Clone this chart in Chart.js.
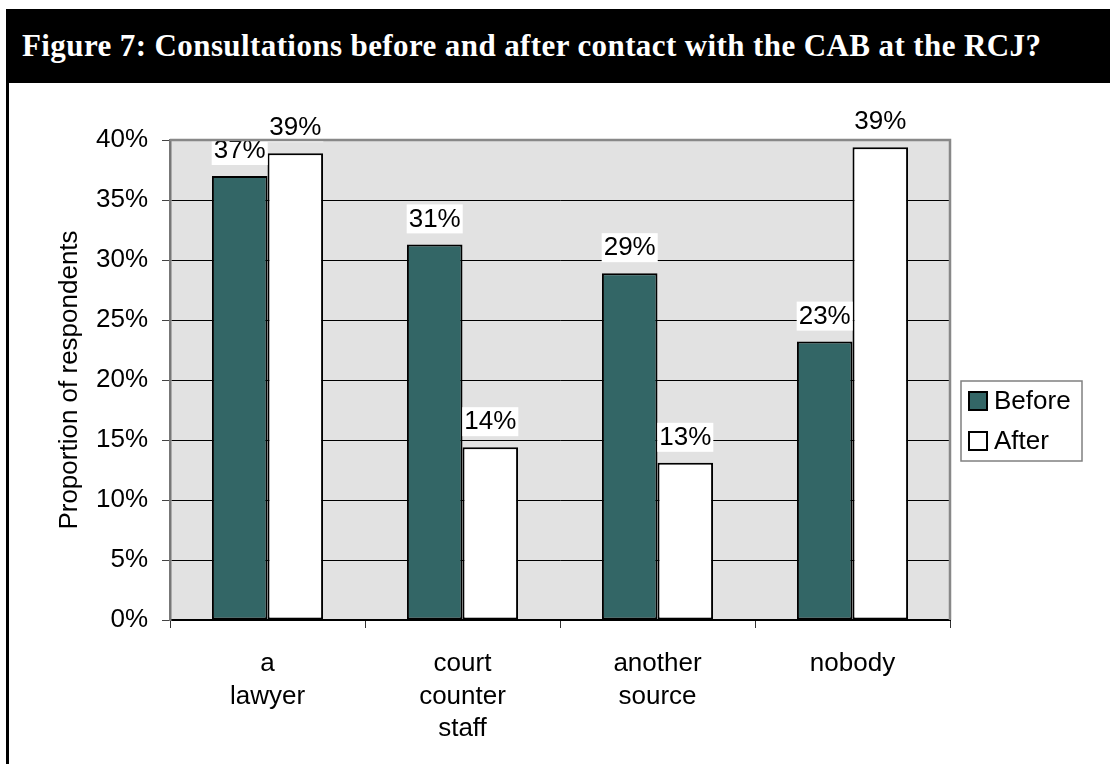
<!DOCTYPE html>
<html>
<head>
<meta charset="utf-8">
<title>Figure 7</title>
<script src="https://cdn.jsdelivr.net/npm/chart.js@4.4.1/dist/chart.umd.min.js"></script>
<style>
    html, body { margin: 0; padding: 0; background: #fff; }
    #page { position: relative; width: 1115px; height: 764px; overflow: hidden; }
    #header {
        position: absolute; left: 6px; top: 9px; width: 1104px; height: 74px;
        background: #000; color: #fff;
        font: bold 31px "Liberation Serif", "Times New Roman", serif;
        letter-spacing: 0.4px;
        line-height: 74px; padding-left: 16px; box-sizing: border-box; white-space: nowrap;
    }
    #leftRule { position: absolute; left: 6px; top: 83px; width: 3px; height: 681px; background: #000; }
    #chartBox { position: absolute; left: 0; top: 0; width: 1115px; height: 764px; }
</style>
</head>
<body>
<div id="page">
    <div id="chartBox"><canvas id="consultChart" width="1115" height="764"></canvas></div>
    <div id="header">Figure 7: Consultations before and after contact with the CAB at the RCJ?</div>
    <div id="leftRule"></div>
</div>

<script>
// Who respondents consulted, before and after the CAB (% of respondents)
const categories = [['a', 'lawyer'], ['court', 'counter', 'staff'], ['another', 'source'], ['nobody']];
const beforeValues = [37.0, 31.3, 28.9, 23.2];
const afterValues = [38.9, 14.4, 13.1, 39.4];
const seriesNames = ['Before', 'After'];
const yTicks = [0, 5, 10, 15, 20, 25, 30, 35, 40];

const FONT = '"Liberation Sans", Arial, sans-serif';
const FONT_SIZE = 26;
const TEAL = '#336666';

// grey plot background plus the grey frame on top and right
const plotFrame = {
    id: 'plotFrame',
    beforeDraw(chart) {
        const { ctx, chartArea: a } = chart;
        ctx.save();
        ctx.fillStyle = '#e2e2e2';
        ctx.fillRect(a.left, a.top, a.right - a.left, a.bottom - a.top);
        ctx.restore();
    },
    afterDraw(chart) {
        const { ctx, chartArea: a } = chart;
        ctx.save();
        ctx.strokeStyle = '#888';
        ctx.lineWidth = 2.5;
        ctx.beginPath();
        ctx.moveTo(a.left, a.top);
        ctx.lineTo(a.right, a.top);
        ctx.lineTo(a.right, a.bottom);
        ctx.stroke();
        ctx.restore();
    }
};

// value labels on white boxes above each bar
const valueLabels = {
    id: 'valueLabels',
    afterDatasetsDraw(chart) {
        const { ctx } = chart;
        ctx.save();
        ctx.font = FONT_SIZE + 'px ' + FONT;
        ctx.textAlign = 'center';
        ctx.textBaseline = 'middle';
        chart.data.datasets.forEach((ds, i) => {
            chart.getDatasetMeta(i).data.forEach((bar, j) => {
                const text = Math.round(ds.data[j]) + '%';
                const w = ctx.measureText(text).width + 4;
                const cy = bar.y - 26;
                ctx.fillStyle = '#fff';
                ctx.fillRect(bar.x - w / 2, cy - 14, w, 29);
                ctx.fillStyle = '#000';
                ctx.fillText(text, bar.x, cy + 1);
            });
        });
        ctx.restore();
    }
};

// boxed legend at the right of the plot
const boxLegend = {
    id: 'boxLegend',
    afterDraw(chart) {
        const { ctx } = chart;
        const x = 961, y = 381, w = 121, h = 80;
        ctx.save();
        ctx.fillStyle = '#fff';
        ctx.fillRect(x, y, w, h);
        ctx.strokeStyle = '#808080';
        ctx.lineWidth = 1.5;
        ctx.strokeRect(x, y, w, h);
        ctx.font = FONT_SIZE + 'px ' + FONT;
        ctx.textBaseline = 'middle';
        chart.data.datasets.forEach((ds, i) => {
            const cy = y + 20 + i * 40;
            ctx.fillStyle = ds.backgroundColor;
            ctx.fillRect(969, cy - 9, 18, 18);
            ctx.strokeStyle = '#000';
            ctx.lineWidth = 2;
            ctx.strokeRect(969, cy - 9, 18, 18);
            ctx.fillStyle = '#000';
            ctx.fillText(ds.label, 994, cy + 1);
        });
        ctx.restore();
    }
};

document.addEventListener('DOMContentLoaded', function() {
    const ctx = document.getElementById('consultChart');
    new Chart(ctx, {
        type: 'bar',
        data: {
            labels: categories,
            datasets: [
                {
                    label: seriesNames[0],
                    data: beforeValues,
                    backgroundColor: TEAL,
                    borderColor: '#000',
                    borderWidth: 2,
                    borderSkipped: false
                },
                {
                    label: seriesNames[1],
                    data: afterValues,
                    backgroundColor: '#fff',
                    borderColor: '#000',
                    borderWidth: 2,
                    borderSkipped: false
                }
            ]
        },
        options: {
            responsive: false,
            animation: false,
            devicePixelRatio: 1,
            categoryPercentage: 0.57,
            barPercentage: 1,
            layout: { padding: { left: 0, right: 165, top: 140, bottom: 0 } },
            plugins: {
                legend: { display: false },
                tooltip: { enabled: false },
                title: { display: false }
            },
            scales: {
                x: {
                    grid: {
                        drawOnChartArea: false,
                        drawTicks: true,
                        tickLength: 8,
                        color: '#333',
                        offset: true
                    },
                    border: { color: '#000', width: 2 },
                    ticks: {
                        color: '#000',
                        padding: 20,
                        maxRotation: 0,
                        font: { family: FONT, size: FONT_SIZE, lineHeight: 1.25 }
                    },
                    afterFit(scale) { scale.height = 144; }
                },
                y: {
                    min: 0,
                    max: 40,
                    afterBuildTicks(scale) {
                        scale.ticks = yTicks.map(v => ({ value: v }));
                    },
                    grid: {
                        color: '#000',
                        lineWidth: 1,
                        tickLength: 8,
                        tickColor: '#444'
                    },
                    border: { color: '#777', width: 2.5 },
                    ticks: {
                        color: '#000',
                        padding: 14,
                        font: { family: FONT, size: FONT_SIZE },
                        callback: v => v + '%'
                    },
                    title: {
                        display: true,
                        text: 'Proportion of respondents',
                        color: '#000',
                        padding: { top: 54, bottom: 0 },
                        font: { family: FONT, size: FONT_SIZE, lineHeight: 1.2 }
                    },
                    afterFit(scale) { scale.width = 170; }
                }
            }
        },
        plugins: [plotFrame, valueLabels, boxLegend]
    });
});
</script>
</body>
</html>
